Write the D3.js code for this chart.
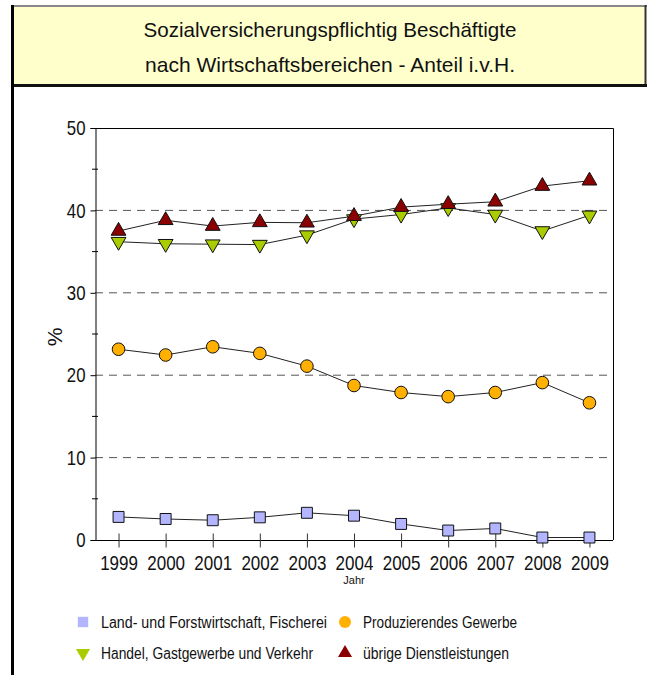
<!DOCTYPE html>
<html>
<head>
<meta charset="utf-8">
<script src="https://cdn.jsdelivr.net/npm/d3@7"></script>
<style>
  body { margin: 0; background: #fff; }
  svg text { font-family: "Liberation Sans", Arial, sans-serif; fill: #111; }
</style>
</head>
<body>
<div id="chart"></div>
<script>
const width = 647;
const height = 675;
const marginLeft = 95;
const marginRight = 34;
const plotTop = 128;
const plotBottom = 540;

const years = ["1999", "2000", "2001", "2002", "2003", "2004", "2005", "2006", "2007", "2008", "2009"];
const yTicks = [0, 10, 20, 30, 40, 50];

const landValues = [2.8, 2.55, 2.4, 2.75, 3.3, 2.95, 1.95, 1.15, 1.4, 0.3, 0.3];
const produzValues = [23.15, 22.45, 23.45, 22.65, 21.1, 18.75, 17.9, 17.4, 17.9, 19.1, 16.65];
const handelValues = [36.2, 35.95, 35.9, 35.85, 37.0, 38.95, 39.5, 40.3, 39.5, 37.5, 39.4];
const dienstValues = [37.5, 38.8, 38.1, 38.55, 38.5, 39.3, 40.4, 40.75, 41.05, 42.95, 43.6];

const seriesNames = [
    "Land- und Forstwirtschaft, Fischerei",
    "Produzierendes Gewerbe",
    "Handel, Gastgewerbe und Verkehr",
    "übrige Dienstleistungen"
];

const series = [
    { name: seriesNames[0], values: landValues, symbol: d3.symbolSquare, size: 120, rotate: 0, color: "#b3b6ff" },
    { name: seriesNames[1], values: produzValues, symbol: d3.symbolCircle, size: 125, rotate: 0, color: "#ffb000" },
    { name: seriesNames[2], values: handelValues, symbol: d3.symbolTriangle, size: 95, rotate: 180, color: "#a8cc00" },
    { name: seriesNames[3], values: dienstValues, symbol: d3.symbolTriangle, size: 95, rotate: 0, color: "#8b0000" }
];

var svg = d3.select("#chart").append("svg")
    .attr("width", width)
    .attr("height", height);

// squeeze text horizontally, the original uses a narrow font
function narrow(sel, f) {
    sel.each(function () {
        const w = this.getComputedTextLength();
        d3.select(this)
            .attr("textLength", w * f)
            .attr("lengthAdjust", "spacingAndGlyphs");
    });
}

// title box
svg.append("rect")
    .attr("x", 12).attr("y", 6)
    .attr("width", 634).attr("height", 79)
    .attr("fill", "#ffffcc");
svg.append("line").attr("x1", 11).attr("x2", 647).attr("y1", 6).attr("y2", 6)
    .attr("stroke", "#888").attr("stroke-width", 2);
svg.append("line").attr("x1", 645.5).attr("x2", 645.5).attr("y1", 5).attr("y2", 87)
    .attr("stroke", "#333").attr("stroke-width", 2);
svg.append("line").attr("x1", 11).attr("x2", 647).attr("y1", 85.5).attr("y2", 85.5)
    .attr("stroke", "#111").attr("stroke-width", 3);
svg.append("line").attr("x1", 12.5).attr("x2", 12.5).attr("y1", 5).attr("y2", height)
    .attr("stroke", "#000").attr("stroke-width", 3);

svg.append("text")
    .attr("x", 330).attr("y", 37)
    .attr("text-anchor", "middle")
    .attr("textLength", 373).attr("lengthAdjust", "spacingAndGlyphs")
    .style("font-size", "21px")
    .text("Sozialversicherungspflichtig Beschäftigte");
svg.append("text")
    .attr("x", 330).attr("y", 72)
    .attr("text-anchor", "middle")
    .attr("textLength", 370).attr("lengthAdjust", "spacingAndGlyphs")
    .style("font-size", "21px")
    .text("nach Wirtschaftsbereichen - Anteil i.v.H.");

const x = d3.scalePoint()
    .domain(years)
    .range([marginLeft, width - marginRight])
    .padding(0.5);

const y = d3.scaleLinear()
    .domain([0, 50])
    .range([plotBottom, plotTop]);

// grid
svg.append("g")
    .selectAll("line")
    .data(yTicks.filter(d => d > 0 && d < 50))
    .join("line")
    .attr("x1", marginLeft).attr("x2", width - marginRight)
    .attr("y1", d => y(d)).attr("y2", d => y(d))
    .attr("stroke", "#555")
    .attr("stroke-dasharray", "8,6");

// frame top + right
svg.append("path")
    .attr("d", `M${marginLeft},${plotTop + 0.5}H${width - marginRight + 0.5}V${plotBottom}`)
    .attr("fill", "none")
    .attr("stroke", "#000");

// y axis
const yAxis = svg.append("g")
    .attr("transform", `translate(${marginLeft + 0.5},0)`)
    .call(d3.axisLeft(y).tickValues(yTicks).tickSize(5).tickPadding(5));
yAxis.select(".domain").attr("stroke", "#000");
yAxis.selectAll("text").style("font-size", "21px").style("font-family", null).call(narrow, 0.8);

svg.append("g")
    .selectAll("line")
    .data([5, 15, 25, 35, 45])
    .join("line")
    .attr("x1", marginLeft - 3).attr("x2", marginLeft + 3)
    .attr("y1", d => y(d)).attr("y2", d => y(d))
    .attr("stroke", "#000");

// x axis
const xAxis = svg.append("g")
    .attr("transform", `translate(0,${plotBottom + 0.5})`)
    .call(d3.axisBottom(x).tickSizeInner(7).tickSizeOuter(0).tickPadding(8));
xAxis.select(".domain").attr("d", `M${marginLeft},0H${width - marginRight}`).attr("stroke", "#000");
xAxis.selectAll(".tick line").attr("y1", -7).attr("stroke", "#333");
xAxis.selectAll("text").style("font-size", "21px").style("font-family", null).call(narrow, 0.81);

svg.append("text")
    .attr("x", (marginLeft + width - marginRight) / 2)
    .attr("y", 584)
    .attr("text-anchor", "middle")
    .style("font-size", "11px")
    .text("Jahr");

svg.append("text")
    .attr("transform", "translate(62,337) rotate(-90)")
    .attr("text-anchor", "middle")
    .style("font-size", "21px")
    .text("%");

// series
const line = d3.line()
    .x((d, i) => x(years[i]))
    .y(d => y(d));

series.forEach(s => {
    svg.append("path")
        .datum(s.values)
        .attr("d", line)
        .attr("fill", "none")
        .attr("stroke", "#222")
        .attr("stroke-width", 1);
});

series.forEach(s => {
    svg.append("g")
        .selectAll("path")
        .data(s.values)
        .join("path")
        .attr("d", d3.symbol().type(s.symbol).size(s.size))
        .attr("transform", (d, i) => `translate(${x(years[i])},${y(d)}) rotate(${s.rotate})`)
        .attr("fill", s.color)
        .attr("stroke", "#111")
        .attr("stroke-width", 1);
});

// legend
const legendPos = [[83, 622], [345, 622], [83, 653], [345, 653]];
const legendWidths = [226, 154, 212, 146];
series.forEach((s, i) => {
    const g = svg.append("g")
        .attr("transform", `translate(${legendPos[i][0]},${legendPos[i][1]})`);
    g.append("path")
        .attr("d", d3.symbol().type(s.symbol).size(s.size * 0.9))
        .attr("transform", `rotate(${s.rotate})`)
        .attr("fill", s.color);
    g.append("text")
        .attr("x", 18)
        .attr("y", 6)
        .attr("textLength", legendWidths[i])
        .attr("lengthAdjust", "spacingAndGlyphs")
        .style("font-size", "16px")
        .text(s.name);
});
</script>
</body>
</html>
